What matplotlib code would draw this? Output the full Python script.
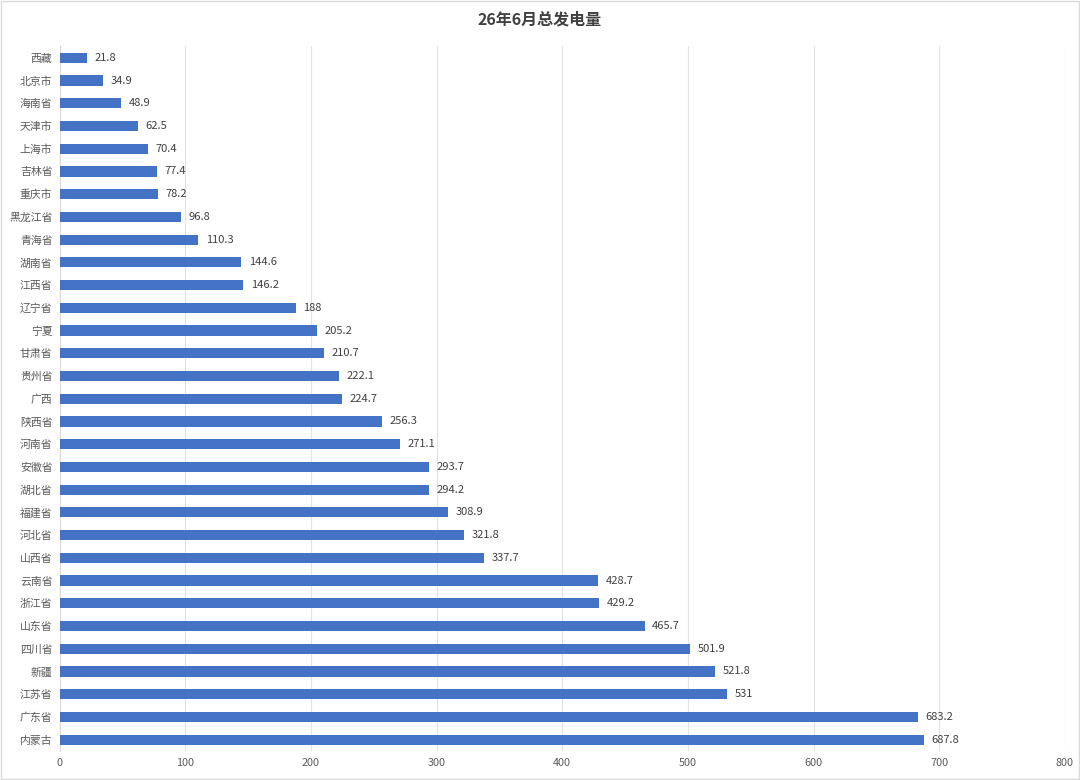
import matplotlib
matplotlib.use("Agg")
import matplotlib.pyplot as plt
from matplotlib.patches import Rectangle

plt.rcParams['font.family'] = ['Noto Sans CJK SC', 'DejaVu Sans']

provinces = ["西藏", "北京市", "海南省", "天津市", "上海市", "吉林省", "重庆市", "黑龙江省",
             "青海省", "湖南省", "江西省", "辽宁省", "宁夏", "甘肃省", "贵州省", "广西",
             "陕西省", "河南省", "安徽省", "湖北省", "福建省", "河北省", "山西省", "云南省",
             "浙江省", "山东省", "四川省", "新疆", "江苏省", "广东省", "内蒙古"]
values = [21.8, 34.9, 48.9, 62.5, 70.4, 77.4, 78.2, 96.8, 110.3, 144.6, 146.2, 188,
          205.2, 210.7, 222.1, 224.7, 256.3, 271.1, 293.7, 294.2, 308.9, 321.8, 337.7,
          428.7, 429.2, 465.7, 501.9, 521.8, 531, 683.2, 687.8]
value_labels = ["21.8", "34.9", "48.9", "62.5", "70.4", "77.4", "78.2", "96.8", "110.3",
                "144.6", "146.2", "188", "205.2", "210.7", "222.1", "224.7", "256.3",
                "271.1", "293.7", "294.2", "308.9", "321.8", "337.7", "428.7", "429.2",
                "465.7", "501.9", "521.8", "531", "683.2", "687.8"]
xticks = [0, 100, 200, 300, 400, 500, 600, 700, 800]
title = "26年6月总发电量"

fig = plt.figure(figsize=(10.8, 7.8), dpi=100)
ax = fig.add_axes([0.0551, 0.0372, 0.9309, 0.9032])

ypos = list(range(len(provinces)))
ax.barh(ypos, values, height=0.45, color="#4472C4", zorder=3)
for y, v, lab in zip(ypos, values, value_labels):
    ax.text(v + 6, y, lab, va="center", ha="left", fontsize=8, color="#404040")

ax.set_ylim(len(provinces) - 0.5, -0.5)
ax.set_xlim(0, 800)
ax.set_yticks(ypos)
ax.set_yticklabels(provinces, fontsize=7.8, color="#595959")
ax.set_xticks(xticks)
ax.set_xticklabels([str(t) for t in xticks], fontsize=7.8, color="#595959")
ax.tick_params(axis="both", length=0, pad=5)
ax.grid(axis="x", color="#E3E3E3", linewidth=0.8, zorder=0)
for s in ["top", "right", "bottom"]:
    ax.spines[s].set_visible(False)
ax.spines["left"].set_color("#D9D9D9")
ax.spines["left"].set_linewidth(0.8)

fig.text(0.5, 1 - 19 / 780, title, ha="center", va="center", fontsize=11.5,
         fontweight="bold", color="#404040")

fig.patches.append(Rectangle((0.001, 0.001), 0.998, 0.998, transform=fig.transFigure,
                             fill=False, edgecolor="#D9D9D9", linewidth=1))

fig.savefig("out.png", dpi=100)
